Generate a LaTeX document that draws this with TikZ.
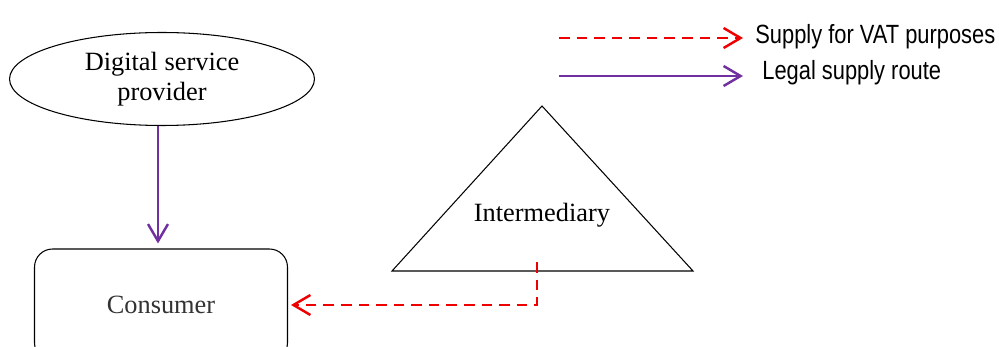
\documentclass[tikz,border=0pt]{standalone}
\usepackage{fontspec}
\setmainfont{Liberation Serif}
\newfontfamily\legendfont[FakeStretch=0.83]{Liberation Sans}
\usetikzlibrary{shapes.geometric, arrows.meta, positioning}
\definecolor{vatred}{RGB}{238,0,0}
\definecolor{legalpurple}{RGB}{112,48,160}

\begin{document}
\begin{tikzpicture}[x=0.02cm, y=-0.02cm, font=\fontsize{15}{17}\selectfont,
  barb/.style={-{Straight Barb[length=3.4mm, width=4mm, line width=1.4pt]}},
  vat/.style={barb, draw=vatred, line width=1.4pt, dash pattern=on 6pt off 4pt},
  legal/.style={barb, draw=legalpurple, line width=1.4pt},
  thin/.style={draw, line width=0.6pt},
  legendtext/.style={anchor=west, inner sep=0pt, font=\legendfont\fontsize{15}{17}\selectfont}]
        % Fix the page size
        \useasboundingbox (0,0) rectangle (999,347);

        % Draw the provider and the consumer
        \node[ellipse, thin, minimum width=6.1cm, minimum height=1.86cm, align=center] (dsp) at (162,79) {Digital service\\provider};
        \node[thin, rounded corners=0.36cm, minimum width=5.06cm, minimum height=2.24cm, text=black!80] (consumer) at (161,305) {Consumer};

        % Draw the intermediary triangle
        \coordinate (apex) at (542,106);
        \coordinate (baseL) at (392,271);
        \coordinate (baseR) at (693,271);
        \draw[thin] (apex) -- (baseR) -- (baseL) -- cycle;
        \node (inter) at (542,215) {Intermediary};
        \coordinate (vatstart) at (537,262);

        % Draw the supply routes
        \draw[legal, shorten >=1mm] ([xshift=-0.08cm]dsp.south) -- ([xshift=-0.06cm]consumer.north);
        \draw[vat, shorten >=0.06cm] (vatstart) |- (consumer.east);

        % Draw the legend
        \coordinate (vatA) at (559,38);
        \coordinate (vatB) at (743,38);
        \coordinate (legalA) at (559,76);
        \coordinate (legalB) at (743,76);
        \draw[vat] (vatA) -- (vatB);
        \draw[legal] (legalA) -- (legalB);
        \node[legendtext] (vatlabel) at (755,37) {Supply for VAT purposes};
        \node[legendtext] (legallabel) at (762,73) {Legal supply route};
      \end{tikzpicture}
\end{document}
